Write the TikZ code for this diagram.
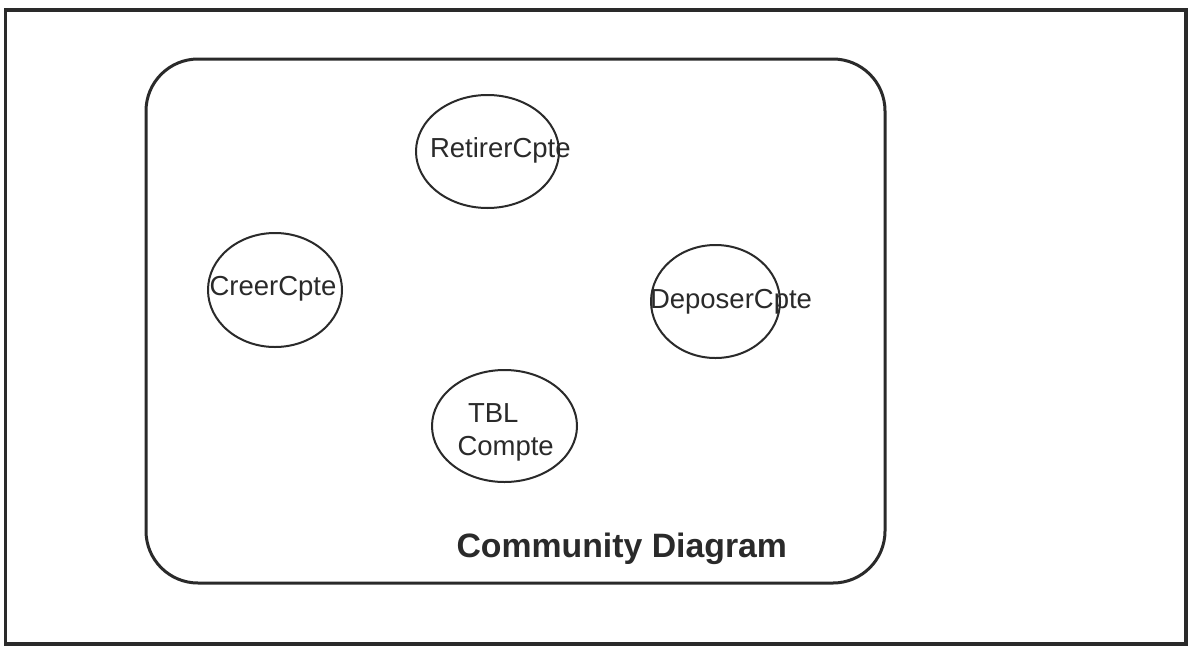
\documentclass[tikz,border=0pt]{standalone}
\usepackage{fontspec}
\setmainfont{Liberation Sans}
\usetikzlibrary{shapes.geometric}
\definecolor{ink}{HTML}{2A2A2A}
\tikzset{
  frame/.style={draw=ink, line width=3.5pt},
  community/.style={draw=ink, line width=3pt, rounded corners=52pt},
  usecase/.style={draw=ink, line width=2pt, ellipse, inner sep=0pt},
  lbl/.style={text=ink, inner sep=0pt, outer sep=0pt, anchor=base west,
              font=\fontsize{27.5}{33}\selectfont},
  title/.style={text=ink, inner sep=0pt, outer sep=0pt, anchor=base west,
              font=\fontsize{33.8}{38}\selectfont\bfseries}
}
\begin{document}
\begin{tikzpicture}[x=1pt,y=-1pt]
  \useasboundingbox (0,0) rectangle (1190,648);
  \fill[white] (0,0) rectangle (1190,648);
  % outer frame and community boundary
  \draw[frame] (5.5,10) rectangle (1186,644);
  \draw[community] (146,59) rectangle (885,583);
  % use-case ellipses
  \node[usecase, minimum width=143pt, minimum height=113pt] (retirer) at (487.5,151.5) {};
  \node[usecase, minimum width=134pt, minimum height=114pt] (creer) at (275,290) {};
  \node[usecase, minimum width=129pt, minimum height=113pt] (deposer) at (715.5,301.5) {};
  \node[usecase, minimum width=145pt, minimum height=112pt] (tbl) at (504.5,426) {};
  % labels
  \node[lbl] (tretirer) at (430,157) {RetirerCpte};
  \node[lbl] (tcreer) at (209.5,295) {CreerCpte};
  \node[lbl] (tdeposer) at (650,308) {DeposerCpte};
  \node[lbl] (ttbl) at (468,422) {TBL};
  \node[lbl] (tcompte) at (457.5,455) {Compte};
  \node[title] (ttitle) at (456.5,557) {Community Diagram};
\end{tikzpicture}
\end{document}
